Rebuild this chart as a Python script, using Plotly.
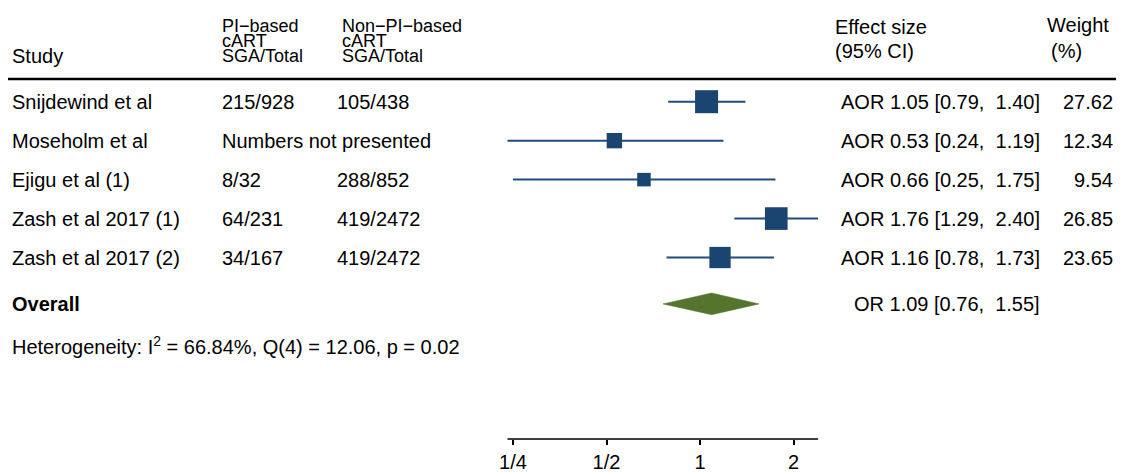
import plotly.graph_objects as go

# ---------------- data ----------------
studies = ["Snijdewind et al", "Moseholm et al", "Ejigu et al (1)",
           "Zash et al 2017 (1)", "Zash et al 2017 (2)"]
pi_sga = ["215/928", None, "8/32", "64/231", "34/167"]
nonpi_sga = ["105/438", None, "288/852", "419/2472", "419/2472"]
aor = [1.05, 0.53, 0.66, 1.76, 1.16]
ci_low = [0.79, 0.24, 0.25, 1.29, 0.78]
ci_high = [1.40, 1.19, 1.75, 2.40, 1.73]
weights = [27.62, 12.34, 9.54, 26.85, 23.65]
overall_or = 1.09
overall_low = 0.76
overall_high = 1.55
het_i2 = 66.84
het_q = 12.06
het_df = 4
het_p = 0.02
tick_vals = [0.25, 0.5, 1, 2]
tick_text = ["1/4", "1/2", "1", "2"]

# ---------------- layout helpers ----------------
OFF = 8                      # page body margin
W, H = 1124 - OFF, 473 - OFF
FONT = "Liberation Sans, Arial, Helvetica, sans-serif"
BODY = 20
HDR = 18
SQ_COLOR = "#1a4571"
LINE_COLOR = "#1f4c78"
DIA_COLOR = "#55752e"
AXIS_Y = 445 - OFF


def fx(x):
    return (x - OFF) / W


def fy(y):
    return y - OFF


row_y = [fy(103 + 39.5 * i) for i in range(len(studies))]
overall_y = fy(308)
het_y = fy(350)
hdr_line_y = fy(80)

fig = go.Figure()

# CI lines
xs, ys = [], []
for lo, hi, y in zip(ci_low, ci_high, row_y):
    xs += [lo, hi, None]
    ys += [y, y, None]
fig.add_trace(go.Scatter(x=xs, y=ys, mode="lines",
                         line=dict(color=LINE_COLOR, width=2),
                         hoverinfo="skip", showlegend=False))

# weighted squares
sizes = [4.375 * w ** 0.5 for w in weights]
fig.add_trace(go.Scatter(x=aor, y=row_y, mode="markers",
                         marker=dict(symbol="square", size=sizes, color=SQ_COLOR,
                                     opacity=1, line=dict(width=0)),
                         showlegend=False))

# overall diamond
dh = 11
fig.add_trace(go.Scatter(
    x=[overall_low, overall_or, overall_high, overall_or, overall_low],
    y=[overall_y, overall_y - dh, overall_y, overall_y + dh, overall_y],
    mode="lines", fill="toself", fillcolor=DIA_COLOR,
    line=dict(color=DIA_COLOR, width=0.5), showlegend=False))

ann = []


def txt(x, y, s, anchor="left", size=BODY, bold=False):
    ann.append(dict(x=fx(x), xref="paper", y=y, yref="y",
                    text=(f"<b>{s}</b>" if bold else s),
                    showarrow=False, xanchor=anchor, yanchor="middle", borderpad=0,
                    font=dict(family=FONT, size=size, color="black")))


# headers
txt(11, fy(57), "Study")
for i, line in enumerate(["PI\u2212based", "cART", "SGA/Total"]):
    txt(221, fy(26.5 + 15.3 * i), line, size=HDR)
for i, line in enumerate(["Non\u2212PI\u2212based", "cART", "SGA/Total"]):
    txt(341, fy(26.5 + 15.3 * i), line, size=HDR)
txt(834, fy(27), "Effect size")
txt(834, fy(52), "(95% CI)")
txt(1046, fy(25), "Weight")
txt(1050, fy(52), "(%)")

# rows
for i, name in enumerate(studies):
    y = row_y[i]
    txt(11, y, name)
    if pi_sga[i] is None:
        txt(221, y, "Numbers not presented")
    else:
        txt(221, y, pi_sga[i])
        txt(336, y, nonpi_sga[i])
    txt(1041, y, f"AOR {aor[i]:.2f} [{ci_low[i]:.2f},\u00a0\u00a0{ci_high[i]:.2f}]", anchor="right")
    txt(1114, y, f"{weights[i]:.2f}", anchor="right")

txt(11, overall_y, "Overall", bold=True)
txt(1041, overall_y, f"OR {overall_or:.2f} [{overall_low:.2f},\u00a0\u00a0{overall_high:.2f}]", anchor="right")
txt(11, het_y, f"Heterogeneity: I<sup>2</sup> = {het_i2:.2f}%, Q({het_df}) = {het_q:.2f}, p = {het_p:.2f}")

shapes = [
    dict(type="line", xref="paper", x0=0, x1=1, yref="y", y0=hdr_line_y, y1=hdr_line_y,
         line=dict(color="black", width=2.5)),
    dict(type="line", xref="x", x0=min(ci_low), x1=max(ci_high), yref="paper", y0=0, y1=0,
         line=dict(color="black", width=1.5)),
]

fig.update_layout(
    width=W, height=H,
    margin=dict(l=0, r=0, t=0, b=H - AXIS_Y, pad=0),
    paper_bgcolor="white", plot_bgcolor="white",
    showlegend=False,
    annotations=ann, shapes=shapes,
    xaxis=dict(type="log", range=[-(700 - OFF) / 310.6, (W - (700 - OFF)) / 310.6],
               tickvals=tick_vals, ticktext=tick_text,
               ticks="outside", ticklen=5, tickwidth=2, tickcolor="black",
               showgrid=False, zeroline=False, showline=False,
               tickfont=dict(family=FONT, size=BODY, color="black"), fixedrange=True),
    yaxis=dict(range=[AXIS_Y, 0], visible=False, showgrid=False, zeroline=False, fixedrange=True),
)

fig.write_html("out.html")
